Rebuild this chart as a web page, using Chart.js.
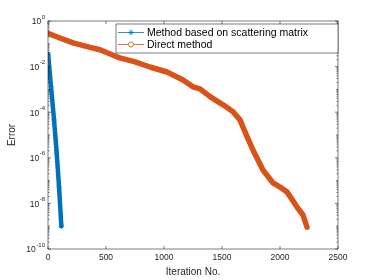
<!DOCTYPE html>
<html lang="en">
<head>
<meta charset="UTF-8">
<title>Error vs iteration</title>
<style>
  html, body { margin: 0; padding: 0; background: #fff; }
  #wrap { width: 374px; height: 280px; }
</style>
</head>
<body>
<div id="wrap"><canvas id="errChart" width="374" height="280"></canvas></div>
<script src="https://cdn.jsdelivr.net/npm/chart.js"></script>
<script>
// values: iteration number and error
const scatterIter = [1, 26, 52, 75, 95, 115];
const scatterErr = [0.035, 1.3e-3, 4.6e-5, 1.6e-6, 5.4e-8, 1.0e-9];

const directIter = [0, 103, 216, 362, 448, 620, 750, 879, 1026, 1164, 1250, 1310, 1397,
  1509, 1595, 1655, 1716, 1767, 1853, 1940, 2000, 2060, 2147, 2198, 2233];
const directErr = [0.29, 0.18, 0.11, 0.07, 0.055, 0.024, 0.016, 0.0096, 0.0058, 0.0026,
  0.0013, 0.00105, 4.8e-4, 2.1e-4, 1.05e-4, 4.6e-5, 8.5e-6, 2.2e-6, 2.9e-7, 7.9e-8,
  5.2e-8, 3.2e-8, 6.9e-9, 3.1e-9, 9e-10];

const seriesNames = ['Method based on scattering matrix', 'Direct method'];
const xTicks = [0, 500, 1000, 1500, 2000, 2500];
const yLabelExp = [0, -2, -4, -6, -8, -10];

const BLUE = '#0072BD';
const ORANGE = '#D95319';
const AXIS = '#262626';

function toPoints(xs, ys) {
    return xs.map((v, i) => ({ x: v, y: ys[i] }));
}

function drawStar(ctx, cx, cy, r) {
    ctx.beginPath();
    ctx.moveTo(cx - r, cy); ctx.lineTo(cx + r, cy);
    ctx.moveTo(cx, cy - r); ctx.lineTo(cx, cy + r);
    const d = r * 0.7;
    ctx.moveTo(cx - d, cy - d); ctx.lineTo(cx + d, cy + d);
    ctx.moveTo(cx - d, cy + d); ctx.lineTo(cx + d, cy - d);
    ctx.stroke();
}

// MATLAB-like box, inward ticks, y labels, axis titles and legend
const matlabAxes = {
    id: 'matlabAxes',
    afterDraw(chart) {
        const { ctx, chartArea: a, scales: { x, y } } = chart;
        ctx.save();
        ctx.strokeStyle = AXIS;
        ctx.lineWidth = 0.6;
        ctx.strokeRect(a.left, a.top, a.right - a.left, a.bottom - a.top);

        ctx.beginPath();
        xTicks.forEach(v => {
            const px = x.getPixelForValue(v);
            ctx.moveTo(px, a.bottom); ctx.lineTo(px, a.bottom - 3);
            ctx.moveTo(px, a.top); ctx.lineTo(px, a.top + 3);
        });
        for (let e = -10; e <= 0; e++) {
            const len = yLabelExp.includes(e) ? 3 : 2;
            const py = y.getPixelForValue(Math.pow(10, e));
            ctx.moveTo(a.left, py); ctx.lineTo(a.left + len, py);
            ctx.moveTo(a.right, py); ctx.lineTo(a.right - len, py);
            if (e < 0) {
                for (let k = 2; k <= 9; k++) {
                    const pm = y.getPixelForValue(k * Math.pow(10, e));
                    ctx.moveTo(a.left, pm); ctx.lineTo(a.left + 1.5, pm);
                    ctx.moveTo(a.right, pm); ctx.lineTo(a.right - 1.5, pm);
                }
            }
        }
        ctx.stroke();

        // y tick labels as 10 with raised exponent
        ctx.fillStyle = AXIS;
        ctx.textBaseline = 'middle';
        yLabelExp.forEach(e => {
            const py = y.getPixelForValue(Math.pow(10, e));
            const ex = String(e);
            ctx.font = '6px "Liberation Sans", Arial, sans-serif';
            const ew = ctx.measureText(ex).width;
            const xEnd = a.left - 3;
            ctx.fillText(ex, xEnd - ew, py - 4);
            ctx.font = '8.5px "Liberation Sans", Arial, sans-serif';
            const w10 = ctx.measureText('10').width;
            ctx.fillText('10', xEnd - ew - 0.5 - w10, py + 1);
        });

        // axis titles
        ctx.font = '10px "Liberation Sans", Arial, sans-serif';
        ctx.textAlign = 'center';
        ctx.fillText('Iteration No.', (a.left + a.right) / 2, 272);
        ctx.save();
        ctx.translate(12.5, (a.top + a.bottom) / 2);
        ctx.rotate(-Math.PI / 2);
        ctx.fillText('Error', 0, 0);
        ctx.restore();

        // legend box
        ctx.textAlign = 'left';
        ctx.fillStyle = '#fff';
        ctx.fillRect(116, 24, 222, 29);
        ctx.strokeStyle = AXIS;
        ctx.lineWidth = 0.6;
        ctx.strokeRect(116, 24, 222, 29);
        const rows = [
            { color: BLUE, y: 32.5, mark: 'star' },
            { color: ORANGE, y: 44.5, mark: 'circle' }
        ];
        rows.forEach((r, i) => {
            ctx.strokeStyle = r.color;
            ctx.lineWidth = 0.8;
            ctx.beginPath();
            ctx.moveTo(118, r.y); ctx.lineTo(144, r.y);
            ctx.stroke();
            if (r.mark === 'star') {
                drawStar(ctx, 131, r.y, 2.8);
            } else {
                ctx.beginPath();
                ctx.arc(131, r.y, 2.6, 0, Math.PI * 2);
                ctx.fillStyle = '#fff';
                ctx.fill();
                ctx.stroke();
            }
            ctx.fillStyle = '#000';
            ctx.font = '10.5px "Liberation Sans", Arial, sans-serif';
            ctx.fillText(seriesNames[i], 147, r.y + 0.5);
        });
        ctx.restore();
    }
};

const ctx = document.getElementById('errChart').getContext('2d');
new Chart(ctx, {
    type: 'line',
    data: {
        datasets: [{
            label: seriesNames[0],
            data: toPoints(scatterIter, scatterErr),
            borderColor: BLUE,
            borderWidth: 4.5,
            borderCapStyle: 'round',
            borderJoinStyle: 'round',
            pointStyle: 'star',
            pointRadius: 2.5,
            pointBorderColor: BLUE,
            pointBorderWidth: 1,
            tension: 0
        }, {
            label: seriesNames[1],
            data: toPoints(directIter, directErr),
            borderColor: ORANGE,
            borderWidth: 5.5,
            borderCapStyle: 'round',
            borderJoinStyle: 'round',
            pointRadius: 0,
            tension: 0
        }]
    },
    options: {
        responsive: false,
        animation: false,
        layout: { padding: { top: 21, right: 36, left: 0, bottom: 0 } },
        scales: {
            x: {
                type: 'linear',
                min: 0,
                max: 2500,
                grid: { display: false, tickLength: 0 },
                border: { display: false },
                afterBuildTicks: s => { s.ticks = xTicks.map(v => ({ value: v })); },
                afterFit: s => { s.height = 31; },
                ticks: {
                    color: AXIS,
                    padding: 4,
                    maxRotation: 0,
                    callback: v => String(v),
                    font: { family: '"Liberation Sans", Arial, sans-serif', size: 8.5 }
                }
            },
            y: {
                type: 'logarithmic',
                min: 1e-10,
                max: 1,
                grid: { display: false },
                border: { display: false },
                ticks: { display: false },
                afterFit: s => { s.width = 48; }
            }
        },
        plugins: {
            legend: { display: false },
            tooltip: { enabled: false }
        }
    },
    plugins: [matlabAxes]
});
</script>
</body>
</html>
